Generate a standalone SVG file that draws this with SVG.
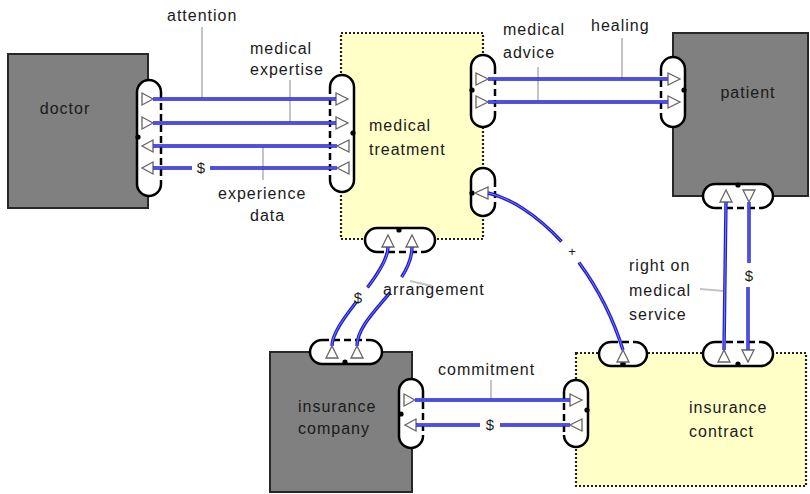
<svg xmlns="http://www.w3.org/2000/svg" width="810" height="494" viewBox="0 0 810 494">
<style>
.bg{fill:#fff}
.dark{fill:#808080;stroke:#282828;stroke-width:2}
.yel{fill:#ffffc8;stroke:#202020;stroke-width:2.2;stroke-dasharray:2 2}
.cap{fill:#fff;stroke:none}
.capo{fill:none;stroke:#000;stroke-width:2.5}
.capd{fill:none;stroke:#000;stroke-width:2.5;stroke-dasharray:7 4}
.dot{fill:#000}
.tri{fill:#fff;stroke:#666;stroke-width:1.3}
.fo{fill:none;stroke:#2020c8;stroke-width:3.4}
.fi{fill:none;stroke:#7c7cff;stroke-width:1}
.ld{fill:none;stroke:#c4c4c4;stroke-width:2}
text{font-family:"Liberation Sans",Arial,sans-serif;font-size:16px;letter-spacing:1px;fill:#1a1a1a}
.c{text-anchor:middle}
.s{font-size:15px;letter-spacing:0}
.p{font-size:13px;letter-spacing:0}
</style>
<rect class="bg" x="0" y="0" width="810" height="494"/>

<g id="doctor">
<rect class="dark" x="8" y="54" width="140" height="154"/>
<text class="c" x="65" y="114">doctor</text>
<rect class="cap" x="137" y="80" width="24" height="116" rx="12"/>
<path class="capo" d="M161,92 A12,12 0 0 0 137,92 V184 A12,12 0 0 0 161,184"/>
<path class="capd" d="M161,92 V184"/>
<circle class="dot" cx="138" cy="137" r="2.6"/>
<polygon class="tri" points="142,93 142,105 153,99"/>
<polygon class="tri" points="142,117 142,129 153,123"/>
<polygon class="tri" points="153,140 153,152 142,146"/>
<polygon class="tri" points="153,162 153,174 142,168"/>
</g>

<g id="medical-treatment">
<rect class="yel" x="341" y="33" width="142" height="206"/>
<text x="369" y="131">medical</text>
<text x="369" y="155">treatment</text>
<rect class="cap" x="330" y="75" width="24" height="117" rx="12"/>
<path class="capo" d="M330,87 A12,12 0 0 1 354,87 V180 A12,12 0 0 1 330,180"/>
<path class="capd" d="M330,87 V180"/>
<circle class="dot" cx="353" cy="133" r="2.6"/>
<polygon class="tri" points="336,93 336,105 348,99"/>
<polygon class="tri" points="336,117 336,129 348,123"/>
<polygon class="tri" points="349,140 349,152 337,146"/>
<polygon class="tri" points="349,162 349,174 337,168"/>
<rect class="cap" x="471" y="55" width="24" height="72" rx="12"/>
<path class="capo" d="M495,67 A12,12 0 0 0 471,67 V115 A12,12 0 0 0 495,115"/>
<path class="capd" d="M495,67 V115"/>
<circle class="dot" cx="472" cy="90" r="2.6"/>
<polygon class="tri" points="476,73 476,85 488,79"/>
<polygon class="tri" points="476,96 476,108 488,102"/>
<rect class="cap" x="471" y="168" width="24" height="48" rx="12"/>
<path class="capo" d="M495,180 A12,12 0 0 0 471,180 V204 A12,12 0 0 0 495,204"/>
<path class="capd" d="M495,180 V204"/>
<circle class="dot" cx="472" cy="193" r="2.6"/>
<polygon class="tri" points="488,187 488,199 475,193"/>
<rect class="cap" x="365" y="228" width="70" height="24" rx="12"/>
<path class="capo" d="M377,252 A12,12 0 0 1 377,228 H423 A12,12 0 0 1 423,252"/>
<path class="capd" d="M377,252 H423"/>
<circle class="dot" cx="399" cy="230" r="2.6"/>
<polygon class="tri" points="382,247 394,247 388,235"/>
<polygon class="tri" points="406,247 418,247 412,235"/>
</g>

<g id="patient">
<rect class="dark" x="673" y="33" width="135" height="163"/>
<text class="c" x="748" y="98">patient</text>
<rect class="cap" x="661" y="57" width="24" height="70" rx="12"/>
<path class="capo" d="M661,69 A12,12 0 0 1 685,69 V115 A12,12 0 0 1 661,115"/>
<path class="capd" d="M661,69 V115"/>
<circle class="dot" cx="684" cy="90" r="2.6"/>
<polygon class="tri" points="668,73 668,85 680,79"/>
<polygon class="tri" points="668,96 668,108 680,102"/>
<rect class="cap" x="703" y="184" width="70" height="24" rx="12"/>
<path class="capo" d="M715,208 A12,12 0 0 1 715,184 H761 A12,12 0 0 1 761,208"/>
<path class="capd" d="M715,208 H761"/>
<circle class="dot" cx="738" cy="185" r="2.6"/>
<polygon class="tri" points="720,202 732,202 726,190"/>
<polygon class="tri" points="743,190 755,190 749,202"/>
</g>

<g id="insurance-company">
<rect class="dark" x="270" y="352" width="142" height="140"/>
<text x="298" y="412">insurance</text>
<text x="298" y="434">company</text>
<rect class="cap" x="310" y="340" width="72" height="24" rx="12"/>
<path class="capo" d="M322,340 A12,12 0 0 0 322,364 H370 A12,12 0 0 0 370,340"/>
<path class="capd" d="M322,340 H370"/>
<circle class="dot" cx="345" cy="362" r="2.6"/>
<polygon class="tri" points="326,358 338,358 332,346"/>
<polygon class="tri" points="351,358 363,358 357,346"/>
<rect class="cap" x="399" y="379" width="24" height="69" rx="12"/>
<path class="capo" d="M423,391 A12,12 0 0 0 399,391 V436 A12,12 0 0 0 423,436"/>
<path class="capd" d="M423,391 V436"/>
<circle class="dot" cx="401" cy="414" r="2.6"/>
<polygon class="tri" points="404,394 404,406 415,400"/>
<polygon class="tri" points="416,419 416,431 405,425"/>
</g>

<g id="insurance-contract">
<rect class="yel" x="576" y="353" width="230" height="133"/>
<text x="689" y="413">insurance</text>
<text x="689" y="437">contract</text>
<rect class="cap" x="599" y="342" width="48" height="24" rx="12"/>
<path class="capo" d="M611,342 A12,12 0 0 0 611,366 H635 A12,12 0 0 0 635,342"/>
<path class="capd" d="M611,342 H635"/>
<circle class="dot" cx="623" cy="364" r="2.8"/>
<polygon class="tri" points="617,362 629,362 623,350"/>
<rect class="cap" x="703" y="342" width="70" height="24" rx="12"/>
<path class="capo" d="M715,342 A12,12 0 0 0 715,366 H761 A12,12 0 0 0 761,342"/>
<path class="capd" d="M715,342 H761"/>
<circle class="dot" cx="738" cy="364" r="2.6"/>
<polygon class="tri" points="718,362 730,362 724,350"/>
<polygon class="tri" points="742,350 754,350 748,362"/>
<rect class="cap" x="564" y="380" width="24" height="67" rx="12"/>
<path class="capo" d="M564,392 A12,12 0 0 1 588,392 V435 A12,12 0 0 1 564,435"/>
<path class="capd" d="M564,392 V435"/>
<circle class="dot" cx="587" cy="410" r="2.6"/>
<polygon class="tri" points="570,394 570,406 582,400"/>
<polygon class="tri" points="582,419 582,431 570,425"/>
</g>

<g id="connectors">
<path class="ld" d="M202,27 V99 M290,80 V123 M263,146 V180 M538,67 V102 M622,38 V79 M700,289 L724,291 M410,281 L432,286 M491,380 V400"/>
<path class="fo" d="M153,99 H336 M153,123 H336 M153,146 H337 M153,168 H192 M210,168 H337 M488,79 H668 M488,102 H668 M724,350 L726,202 M749,202 V263 M748,287 V350 M415,400 H570 M416,425 H480 M500,425 H570 M488,193 C510,198 536.75,214.75 561.5,241.5 M578.9,262.4 C596.6,286.5 612.4,315.8 623,350"/>
<path class="fi" d="M153,99 H336 M153,123 H336 M153,146 H337 M153,168 H192 M210,168 H337 M488,79 H668 M488,102 H668 M724,350 L726,202 M749,202 V263 M748,287 V350 M415,400 H570 M416,425 H480 M500,425 H570 M488,193 C510,198 536.75,214.75 561.5,241.5 M578.9,262.4 C596.6,286.5 612.4,315.8 623,350"/>
<path class="fo" pathLength="100" stroke-dasharray="44 16 100" d="M332,346 C332,320 388,275 388,247"/>
<path class="fi" pathLength="100" stroke-dasharray="44 16 100" d="M332,346 C332,320 388,275 388,247"/>
<path class="fo" pathLength="100" stroke-dasharray="55 17 100" d="M357,346 C357,315 412,285 412,247"/>
<path class="fi" pathLength="100" stroke-dasharray="55 17 100" d="M357,346 C357,315 412,285 412,247"/>
<text x="167" y="21">attention</text>
<text x="250" y="54">medical</text>
<text x="250" y="75">expertise</text>
<text x="218" y="199">experience</text>
<text x="250" y="221">data</text>
<text class="c s" x="201" y="173">$</text>
<text x="503" y="35">medical</text>
<text x="503" y="58">advice</text>
<text x="591" y="31">healing</text>
<text class="c p" x="572" y="256">+</text>
<text class="c s" x="358" y="303">$</text>
<text x="383" y="295">arrangement</text>
<text x="629" y="271">right on</text>
<text x="629" y="296">medical</text>
<text x="629" y="320">service</text>
<text class="c s" x="749" y="281">$</text>
<text x="438" y="375">commitment</text>
<text class="c s" x="490" y="430">$</text>
</g>
</svg>
